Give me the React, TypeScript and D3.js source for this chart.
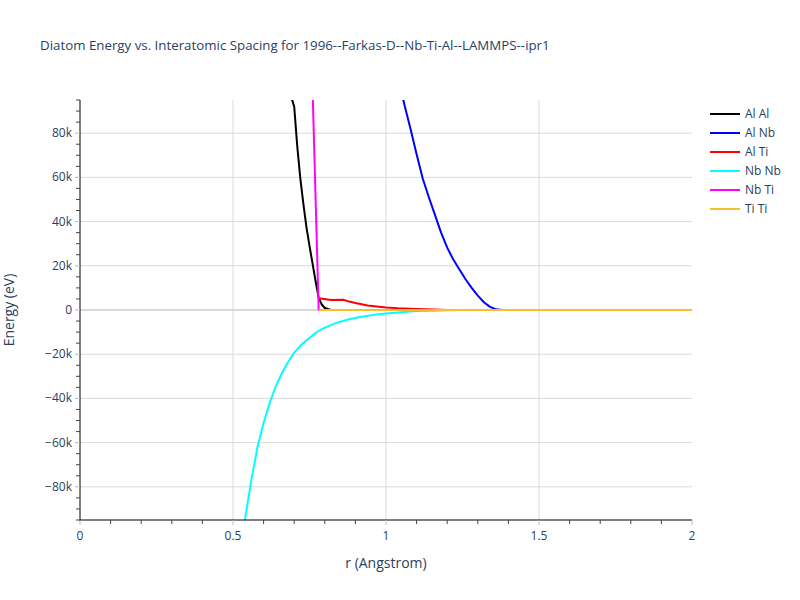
import React from 'react'
import * as d3 from 'd3'

// pair names in legend order
const pairs = ['Al Al', 'Al Nb', 'Al Ti', 'Nb Nb', 'Nb Ti', 'Ti Ti']
const pairColors = ['#000000', '#0000ff', '#ff0000', '#00ffff', '#ff00ff', '#f2c12e']

// spacing (Angstrom) and energy (eV)
const alAlR = [0.66, 0.68, 0.70, 0.71, 0.72, 0.73, 0.74, 0.75, 0.76, 0.77, 0.78, 0.79, 0.80, 0.82, 2.0]
const alAlE = [125000, 101000, 92000, 74000, 59500, 48000, 37500, 29000, 21000, 13000, 5500, 2500, 900, 0, 0]

const alNbR = [1.02, 1.04, 1.06, 1.08, 1.10, 1.12, 1.14, 1.16, 1.18, 1.20, 1.22, 1.24, 1.26, 1.28, 1.30, 1.32, 1.34, 1.36, 1.38, 2.0]
const alNbE = [125000, 105000, 93000, 82000, 70500, 59500, 51000, 43000, 35000, 28200, 22800, 18300, 13900, 10000, 6500, 3500, 1400, 300, 0, 0]

const alTiR = [0.78, 0.82, 0.86, 0.88, 0.90, 0.94, 1.00, 1.04, 1.10, 1.16, 1.20, 2.0]
const alTiE = [5300, 4500, 4600, 3800, 3200, 2000, 1100, 750, 500, 250, 0, 0]

const nbNbR = [0.50, 0.52, 0.54, 0.56, 0.58, 0.60, 0.62, 0.64, 0.66, 0.68, 0.70, 0.72, 0.74, 0.76, 0.78, 0.80, 0.84, 0.88, 0.92, 0.96, 1.00, 1.05, 1.10, 1.15, 1.20, 1.25, 1.30, 2.0]
const nbNbE = [-145000, -118000, -94000, -77000, -62000, -51000, -42000, -34500, -28500, -23500, -19300, -16200, -13700, -11500, -9400, -8000, -5700, -4200, -3100, -2200, -1550, -1000, -500, -300, -150, -50, 0, 0]

const nbTiR = [0.74, 0.78, 0.80, 2.0]
const nbTiE = [200000, 0, 0, 0]

const tiTiR = [0.78, 1.0, 1.5, 2.0]
const tiTiE = [0, 0, 0, 0]

const xTicks = [0, 0.5, 1, 1.5, 2]
const yTicks = [-80000, -60000, -40000, -20000, 0, 20000, 40000, 60000, 80000]

const W = 800
const H = 600
const left = 80
const right = 692
const top = 100
const bottom = 520

export default function App() {
  const x = d3.scaleLinear().domain([0, 2]).range([left, right])
  const y = d3.scaleLinear().domain([-95000, 95000]).range([bottom, top])

  const series = [
    [alAlR, alAlE], [alNbR, alNbE], [alTiR, alTiE],
    [nbNbR, nbNbE], [nbTiR, nbTiE], [tiTiR, tiTiE],
  ]

  const line = d3.line<[number, number]>()
    .x(d => x(d[0]))
    .y(d => y(d[1]))

  const fmt = (v: number) => v === 0 ? '0' : (v < 0 ? '\u2212' : '') + Math.abs(v / 1000) + 'k'

  const xMinor = d3.range(0, 2.001, 0.1).filter(v => Math.abs(v * 2 - Math.round(v * 2)) > 1e-6)
  const yMinor = d3.range(-95000, 95001, 5000).filter(v => v % 20000 !== 0)

  const font = '"Open Sans", verdana, arial, sans-serif'
  const textCol = '#2a3f5f'

  return (
    <svg width={W} height={H} style={{ position: 'absolute', left: 0, top: 0, fontFamily: font }}>
      <defs>
        <clipPath id="plot">
          <rect x={left} y={top} width={right - left} height={bottom - top} />
        </clipPath>
      </defs>
      <rect width={W} height={H} fill="#fff" />

      {/* grid */}
      {xTicks.slice(1, -1).map(t => (
        <line key={'gx' + t} x1={x(t)} x2={x(t)} y1={top} y2={bottom} stroke="#d9d9d9" />
      ))}
      {yTicks.map(t => (
        <line key={'gy' + t} x1={left} x2={right} y1={y(t)} y2={y(t)} stroke="#d9d9d9" strokeWidth={t === 0 ? 2 : 1} />
      ))}

      {/* curves */}
      <g clipPath="url(#plot)">
        {series.map((s, i) => (
          <path key={pairs[i]} d={line(s[0].map((r, j) => [r, s[1][j]] as [number, number])) || ''}
            fill="none" stroke={pairColors[i]} strokeWidth={2} strokeLinejoin="round" />
        ))}
      </g>

      {/* axes */}
      <line x1={left} x2={left} y1={top} y2={bottom + 1} stroke="#000" />
      <line x1={left} x2={right} y1={bottom} y2={bottom} stroke="#000" />
      {xTicks.map(t => (
        <g key={'xt' + t}>
          <line x1={x(t)} x2={x(t)} y1={bottom} y2={bottom + 5} stroke="#bbb" />
          <text x={x(t)} y={bottom + 20} textAnchor="middle" fontSize={12} fill={textCol}>{t}</text>
        </g>
      ))}
      {xMinor.map(t => (
        <line key={'xm' + t} x1={x(t)} x2={x(t)} y1={bottom} y2={bottom + 4} stroke="#444" />
      ))}
      {yTicks.map(t => (
        <g key={'yt' + t}>
          <line x1={left - 5} x2={left} y1={y(t)} y2={y(t)} stroke="#bbb" />
          <text x={left - 8} y={y(t) + 4} textAnchor="end" fontSize={12} fill={textCol}>{fmt(t)}</text>
        </g>
      ))}
      {yMinor.map(t => (
        <line key={'ym' + t} x1={left - 4} x2={left} y1={y(t)} y2={y(t)} stroke="#444" />
      ))}

      {/* labels */}
      <text x={40} y={50} fontSize={13.3} fill={textCol}>
        Diatom Energy vs. Interatomic Spacing for 1996--Farkas-D--Nb-Ti-Al--LAMMPS--ipr1
      </text>
      <text x={(left + right) / 2} y={568} textAnchor="middle" fontSize={14} fill={textCol}>r (Angstrom)</text>
      <text transform={`translate(14,${(top + bottom) / 2}) rotate(-90)`} textAnchor="middle" fontSize={14} fill={textCol}>Energy (eV)</text>

      {/* legend */}
      {pairs.map((p, i) => (
        <g key={'lg' + p} transform={`translate(710,${114 + i * 19})`}>
          <line x1={0} x2={30} y1={0} y2={0} stroke={pairColors[i]} strokeWidth={2} />
          <text x={35} y={4} fontSize={12} fill={textCol}>{p}</text>
        </g>
      ))}
    </svg>
  )
}
